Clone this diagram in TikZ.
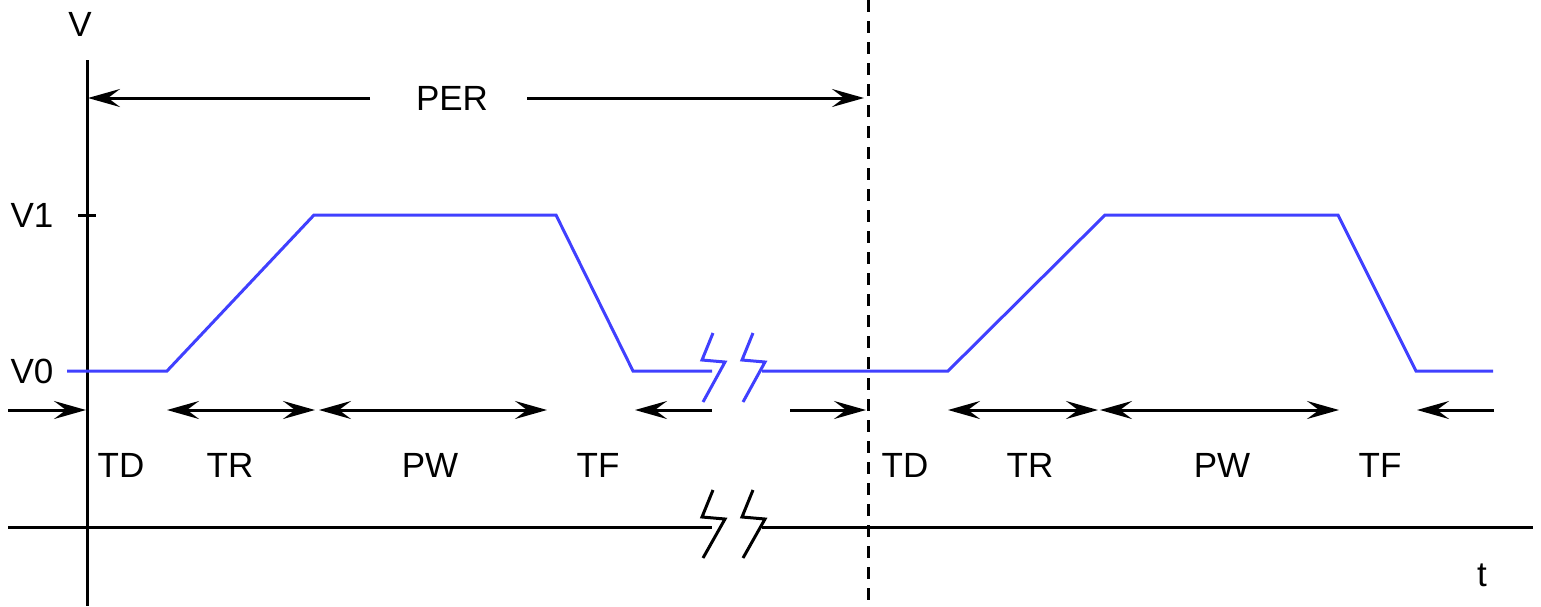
\documentclass[tikz,border=0pt]{standalone}
\usepackage{fontspec}
\setmainfont{Liberation Sans}
\usetikzlibrary{arrows.meta,positioning}
\definecolor{waveblue}{RGB}{64,64,255}

\begin{document}
\begin{tikzpicture}[x=0.5pt, y=-0.5pt,
    lbl/.style={font=\fontsize{17.5}{20}\selectfont, inner sep=0pt},
    axis/.style={line width=1.5pt},
    wave/.style={line width=1.5pt, draw=waveblue},
    dim/.style={line width=1.5pt, -{Stealth[length=16pt, width=9pt, inset=6pt]}},
    dimboth/.style={line width=1.5pt, {Stealth[length=16pt, width=9pt, inset=6pt]}-{Stealth[length=16pt, width=9pt, inset=6pt]}},
    brk/.style={line width=1.5pt, line join=miter}
]
\useasboundingbox (0,0) rectangle (1541,606);
% axes
\coordinate (vtop) at (87,60);
\coordinate (vbot) at (87,606);
\coordinate (tleft) at (8,527);
\coordinate (tcut1) at (712,527);
\coordinate (tcut2) at (762,527);
\coordinate (tright) at (1533,527);
\draw[axis] (vtop) -- (vbot);
\draw[axis] (tleft) -- (tcut1);
\draw[axis] (tcut2) -- (tright);
\draw[axis, dash pattern=on 6pt off 4.5pt] (868,0) -- (868,606);
\draw[axis] (78,215) -- (96,215);
\foreach \dx in {0,40}
  \draw[brk] (713+\dx,490) -- (702+\dx,517) -- (725+\dx,519) -- (703+\dx,558);
\node[lbl] (vlab) at (80,24) {V};
\node[lbl] (vone) at (32,215) {V1};
\node[lbl] (vzero) at (32,371) {V0};
\node[lbl] (tlab) at (1482,575) {t};
% waveform
\draw[wave] (67,371) -- (167,371) -- (314,215) -- (556,215) -- (633,371) -- (712,371);
\draw[wave] (762,371) -- (948,371) -- (1105,215) -- (1338,215) -- (1416,371) -- (1493,371);
\foreach \dx in {0,40}
  \draw[brk, waveblue] (713+\dx,333) -- (702+\dx,360) -- (725+\dx,362) -- (703+\dx,402);
% period
\node[lbl] (per) at (452,98) {PER};
\coordinate (perla) at (370,98);
\coordinate (perra) at (527,98);
\coordinate (perl) at (88,98);
\coordinate (perr) at (864,98);
\draw[dim] (perla) -- (perl);
\draw[dim] (perra) -- (perr);
% timing marks
\foreach \n/\xa/\xb in {tda/8/86, tra/167/315, pwa/319/547, tfa/712/635, tdb/790/866, trb/948/1098, pwb/1100/1339, tfb/1494/1417} {
  \coordinate (\n-s) at (\xa,410);
  \coordinate (\n-e) at (\xb,410);
}
\draw[dim] (tda-s) -- (tda-e);
\draw[dimboth] (tra-s) -- (tra-e);
\draw[dimboth] (pwa-s) -- (pwa-e);
\draw[dim] (tfa-s) -- (tfa-e);
\draw[dim] (tdb-s) -- (tdb-e);
\draw[dimboth] (trb-s) -- (trb-e);
\draw[dimboth] (pwb-s) -- (pwb-e);
\draw[dim] (tfb-s) -- (tfb-e);
\foreach \n/\x/\t in {tdone/121/TD, trone/230/TR, pwone/430/PW, tfone/598/TF, tdtwo/905/TD, trtwo/1030/TR, pwtwo/1222/PW, tftwo/1380/TF}
  \node[lbl] (\n) at (\x,465) {\t};
\end{tikzpicture}
\end{document}
